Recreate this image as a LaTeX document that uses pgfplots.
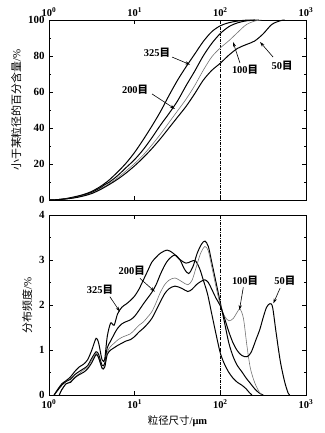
\documentclass[border=0pt]{standalone}
\usepackage{fontspec}
\setmainfont{Liberation Serif}
\newfontfamily\cjk{Noto Sans CJK SC}
\usepackage{pgfplots}
\pgfplotsset{compat=1.18}
\usepackage{pgfplotstable}
\usetikzlibrary{arrows.meta}

% frequency distributions (x in micrometre, y in %)
\pgfplotstableread{
x y
1.148 0
1.259 0.12
1.413 0.25
1.585 0.32
1.778 0.40
1.995 0.52
2.239 0.62
2.512 0.68
2.818 0.78
3.162 1.00
3.548 1.26
3.802 1.15
4.169 0.78
4.467 0.80
4.786 1.30
5.248 1.60
5.754 1.55
6.310 1.80
7.079 1.95
7.943 2.02
8.913 2.10
10.00 2.20
11.22 2.35
12.59 2.55
14.13 2.75
15.85 2.95
17.78 3.06
19.95 3.15
23.99 3.22
28.18 3.15
33.11 3.02
39.81 2.93
45.71 2.97
51.29 2.98
57.54 2.80
63.10 2.56
70.79 2.25
79.43 1.80
89.13 1.35
100.0 0.93
112.2 0.68
125.9 0.50
141.3 0.37
158.5 0.28
177.8 0.22
199.5 0.14
218.8 0.05
234.4 0
}\fA
\pgfplotstableread{
x y
1.148 0
1.259 0.10
1.413 0.22
1.585 0.30
1.778 0.35
1.995 0.45
2.239 0.52
2.512 0.58
2.818 0.65
3.162 0.82
3.548 0.96
3.802 0.90
4.169 0.66
4.467 0.70
4.786 1.05
5.248 1.20
5.754 1.35
6.310 1.48
7.079 1.58
7.943 1.63
8.913 1.67
10.00 1.75
11.22 1.88
12.59 2.02
14.13 2.15
15.85 2.28
17.78 2.45
19.95 2.68
22.39 2.88
25.12 3.02
29.51 3.11
33.88 3.00
38.02 2.80
42.66 2.70
47.86 2.85
53.70 3.15
60.26 3.35
66.07 3.42
72.44 3.30
79.43 2.95
89.13 2.50
100.0 2.05
112.2 1.60
125.9 1.15
141.3 0.85
158.5 0.65
177.8 0.52
199.5 0.38
223.9 0.26
251.2 0.14
281.8 0.05
316.2 0
}\fB
\pgfplotstableread{
x y
1.318 0
1.413 0.12
1.585 0.25
1.778 0.30
1.995 0.40
2.239 0.47
2.512 0.55
2.818 0.62
3.162 0.78
3.548 0.93
3.802 0.85
4.169 0.58
4.467 0.62
4.786 0.95
5.248 1.08
5.754 1.15
6.310 1.22
7.079 1.28
7.943 1.32
8.913 1.36
10.00 1.45
11.22 1.55
12.59 1.62
14.13 1.73
15.85 1.85
17.78 2.05
19.95 2.28
22.39 2.45
25.12 2.55
29.51 2.60
35.48 2.52
41.69 2.45
46.77 2.55
52.48 2.85
58.88 3.15
66.07 3.30
72.44 3.20
79.43 2.85
89.13 2.40
100.0 2.00
112.2 1.75
125.9 1.65
141.3 1.70
158.5 1.85
169.8 1.91
186.2 1.70
204.2 1.10
223.9 0.60
251.2 0.28
281.8 0.08
302.0 0
}\fC
\pgfplotstableread{
x y
1.318 0
1.413 0.12
1.585 0.25
1.778 0.28
1.995 0.38
2.239 0.45
2.512 0.50
2.818 0.58
3.162 0.72
3.548 0.90
3.802 0.82
4.169 0.60
4.467 0.62
4.786 0.90
5.248 1.00
5.754 1.05
6.310 1.10
7.079 1.15
7.943 1.20
8.913 1.23
10.00 1.30
11.22 1.40
12.59 1.48
14.13 1.58
15.85 1.70
17.78 1.88
19.95 2.07
22.39 2.25
25.12 2.36
29.51 2.42
35.48 2.37
41.69 2.30
46.77 2.35
52.48 2.45
58.88 2.52
66.07 2.56
72.44 2.50
79.43 2.35
89.13 2.15
100.0 1.98
112.2 1.70
125.9 1.40
141.3 1.15
158.5 0.98
177.8 0.88
204.2 0.85
229.1 0.95
263.0 1.25
288.4 1.45
316.2 1.72
346.7 1.95
380.2 2.03
407.4 1.95
446.7 1.40
501.2 0.75
562.3 0.30
616.6 0.05
645.7 0
}\fD

% cumulative distributions
\pgfplotstableread{
x y
1.000 0
1.259 0.2
1.585 0.8
1.995 1.8
2.512 3.0
3.162 4.8
3.981 7.5
4.467 9.2
5.012 11.0
6.310 15.5
7.943 20.5
10.00 26.5
12.59 33.5
15.85 41
19.95 49
25.12 58
31.62 66.5
39.81 74
50.12 81
63.10 88
79.43 93.5
100.0 96.8
125.9 98.5
158.5 99.4
199.5 99.9
251.2 100
}\cA
\pgfplotstableread{
x y
1.000 0
1.259 0.2
1.585 0.7
1.995 1.5
2.512 2.7
3.162 4.3
3.981 6.8
4.467 8.5
5.012 9.8
6.310 13.5
7.943 18
10.00 22.5
12.59 28
15.85 34.5
19.95 41.5
25.12 48
31.62 55
39.81 63.5
50.12 71.5
63.10 80
79.43 87
100.0 92.5
125.9 96.3
158.5 98.4
199.5 99.5
251.2 99.9
281.8 100
}\cB
\pgfplotstableread{
x y
1.000 0
1.259 0.2
1.585 0.6
1.995 1.3
2.512 2.4
3.162 3.9
3.981 6.2
5.012 9.0
6.310 12.3
7.943 16.2
10.00 20.3
12.59 25
15.85 30.5
19.95 36.5
25.12 43
31.62 49.5
39.81 56
50.12 63.5
63.10 72
79.43 79.5
100.0 84.5
125.9 88.5
158.5 93
199.5 97.3
251.2 99.4
302.0 100
}\cC
\pgfplotstableread{
x y
1.000 0
1.259 0.2
1.585 0.6
1.995 1.2
2.512 2.2
3.162 3.6
3.981 5.8
5.012 8.5
6.310 11.5
7.943 15
10.00 19
12.59 23.5
15.85 28.5
19.95 34
25.12 40
31.62 46
39.81 52
50.12 59
63.10 66.5
79.43 72
100.0 76
125.9 80.5
158.5 84.2
199.5 86.3
251.2 88.3
316.2 92.3
398.1 97.5
501.2 99.6
562.3 100
}\cD

\pgfplotsset{
  myax/.style={
    scale only axis, width=257bp, height=180bp,
    xmin=1, xmax=1000,
    xtick={1,10,100,1000}, xminorticks=false,
    xticklabels={10\textsuperscript{0},10\textsuperscript{1},10\textsuperscript{2},10\textsuperscript{3}},
    tick align=inside, major tick length=4bp, minor tick length=2.5bp,
    tick style={black, line width=0.6pt},
    axis line style={line width=0.8pt},
    /pgf/number format/assume math mode=true,
    yticklabel style={font=\fontsize{11}{12}\selectfont\bfseries, xshift=-1bp},
    xticklabel style={font=\fontsize{10.5}{12}\selectfont\bfseries},
    ylabel style={font=\fontsize{11}{12}\selectfont},
    xlabel style={font=\fontsize{10.5}{12}\selectfont},
    minor y tick num=1,
  },
  crv/.style={smooth, tension=0.5, line width=1pt, black, no marks},
  crvg/.style={smooth, tension=0.5, line width=0.6pt, black!55, no marks},
  vline/.style={line width=0.5pt, black, dash pattern=on 3pt off 1.2pt on 0.7pt off 1.2pt, no marks},
}
\tikzset{
  lab/.style={font=\fontsize{10.5}{12}\selectfont\bfseries, inner sep=0.5pt},
  arr/.style={-{Stealth[length=5bp,width=3.2bp]}, line width=0.6pt},
}

\begin{document}
\begin{tikzpicture}
\useasboundingbox (0,0) rectangle (325bp,433bp);

% ---- top: cumulative ----
\begin{axis}[xmode=log, myax, at={(49bp,233bp)}, anchor=south west,
  ymin=0, ymax=100, ytick={0,20,40,60,80,100},
  xticklabel pos=right,
  ylabel={{\cjk 小于某粒径的百分含量}/\%},
]
\addplot[vline] coordinates {(100,0) (100,100)};
\addplot[crv] table {\cA};
\addplot[crv] table {\cB};
\addplot[crvg] table {\cC};
\addplot[crv] table {\cD};
\node[lab] at (rel axis cs:0.420,0.817) {325{\cjk 目}};
\draw[arr] (rel axis cs:0.479,0.794) -- (rel axis cs:0.549,0.752);
\node[lab] at (rel axis cs:0.335,0.611) {200{\cjk 目}};
\draw[arr] (rel axis cs:0.401,0.589) -- (rel axis cs:0.490,0.506);
\node[lab] at (rel axis cs:0.763,0.722) {100{\cjk 目}};
\draw[arr] (rel axis cs:0.743,0.761) -- (rel axis cs:0.716,0.878);
\node[lab] at (rel axis cs:0.907,0.744) {50{\cjk 目}};
\draw[arr] (rel axis cs:0.872,0.794) -- (rel axis cs:0.821,0.878);
\end{axis}

% ---- bottom: frequency ----
\begin{axis}[xmode=log, myax, at={(49bp,38bp)}, anchor=south west,
  ymin=0, ymax=4, ytick={0,1,2,3,4},
  xticklabel style={yshift=-1.5bp},
  ylabel={{\cjk 分布频度}/\%},
  xlabel={{\cjk 粒径尺寸}/\textbf{μm}},
]
\addplot[vline] coordinates {(100,0) (100,4)};
\addplot[crv] table {\fA};
\addplot[crv] table {\fB};
\addplot[crvg] table {\fC};
\addplot[crv] table {\fD};
\node[lab] at (rel axis cs:0.198,0.583) {325{\cjk 目}};
\draw[arr] (rel axis cs:0.237,0.546) -- (rel axis cs:0.276,0.463);
\node[lab] at (rel axis cs:0.322,0.691) {200{\cjk 目}};
\draw[arr] (rel axis cs:0.354,0.648) -- (rel axis cs:0.412,0.574);
\node[lab] at (rel axis cs:0.763,0.633) {100{\cjk 目}};
\draw[arr] (rel axis cs:0.756,0.598) -- (rel axis cs:0.741,0.472);
\node[lab] at (rel axis cs:0.918,0.633) {50{\cjk 目}};
\draw[arr] (rel axis cs:0.899,0.593) -- (rel axis cs:0.873,0.509);
\end{axis}
\end{tikzpicture}
\end{document}
